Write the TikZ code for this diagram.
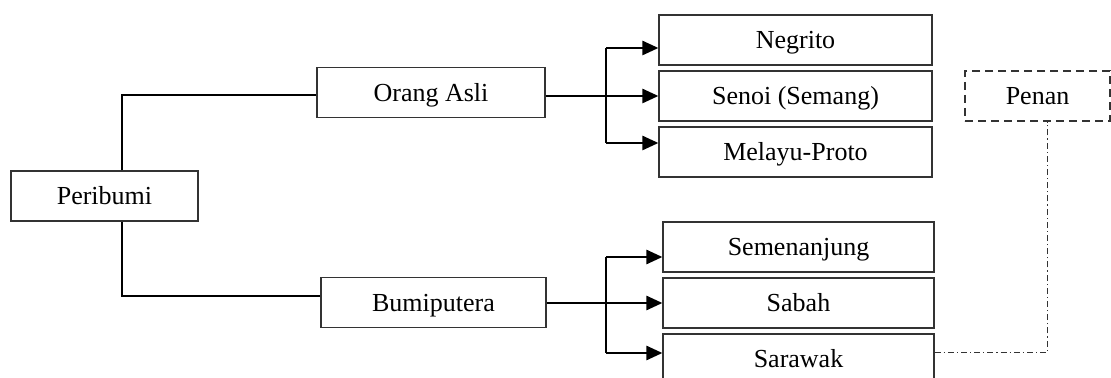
\documentclass[tikz,border=0pt]{standalone}
\usepackage{fontspec}
\setmainfont{Liberation Serif}
\usetikzlibrary{arrows.meta}

\begin{document}
\begin{tikzpicture}[x=0.5pt, y=-0.5pt,
  box/.style={draw=black!80, line width=0.6pt, inner sep=0pt, minimum height=25pt,
    text height=8.6pt, text depth=0pt, font=\fontsize{13}{15}\selectfont},
  arr/.style={line width=1.3pt, -{Triangle[length=8pt,width=7pt]}},
  link/.style={line width=0.6pt},
  penanlink/.style={line width=0.5pt, draw=black!80, dash pattern=on 3pt off 1.5pt on 0.6pt off 1.5pt}]
  \useasboundingbox (0,0) rectangle (1111,378);
  % left side
  \node[box, minimum width=93.5pt] (peribumi) at (104.5,196) {Peribumi};
  \node[box, minimum width=114pt] (orang) at (431,92.5) {Orang Asli};
  \node[box, minimum width=112.5pt] (bumi) at (433.5,302.5) {Bumiputera};
  % right side
  \node[box, minimum width=136.5pt] (negrito) at (795.5,40) {Negrito};
  \node[box, minimum width=136.5pt] (senoi) at (795.5,96) {Senoi (Semang)};
  \node[box, minimum width=136.5pt] (melayu) at (795.5,152) {Melayu-Proto};
  \node[box, minimum width=135.5pt] (semenanjung) at (798.5,247) {Semenanjung};
  \node[box, minimum width=135.5pt] (sabah) at (798.5,303) {Sabah};
  \node[box, minimum width=135.5pt] (sarawak) at (798.5,359) {Sarawak};
  \node[box, minimum width=72.5pt, dash pattern=on 4pt off 2.5pt] (penan) at (1037.5,96) {Penan};

  \draw[link] ([xshift=8.75pt]peribumi.north) |- ([yshift=-1.25pt]orang.west);
  \draw[link] ([xshift=8.75pt]peribumi.south) |- ([yshift=3.25pt]bumi.west);

  \coordinate (fa1) at (606,48);
  \coordinate (fa3) at (606,143);
  \draw[link] (fa1) -- (fa3);
  \draw[arr] (fa1) -- (fa1 -| negrito.west);
  \draw[arr] (orang.east |- senoi) -- (senoi.west);
  \draw[arr] (fa3) -- (fa3 -| melayu.west);

  \coordinate (fb1) at (606,257);
  \coordinate (fb3) at (606,353);
  \draw[link] (fb1) -- (fb3);
  \draw[arr] (fb1) -- (fb1 -| semenanjung.west);
  \draw[arr] (bumi.east |- sabah) -- (sabah.west);
  \draw[arr] (fb3) -- (fb3 -| sarawak.west);

  \draw[penanlink] ([yshift=3pt]sarawak.east) -| ([xshift=4.75pt]penan.south);
\end{tikzpicture}
\end{document}
